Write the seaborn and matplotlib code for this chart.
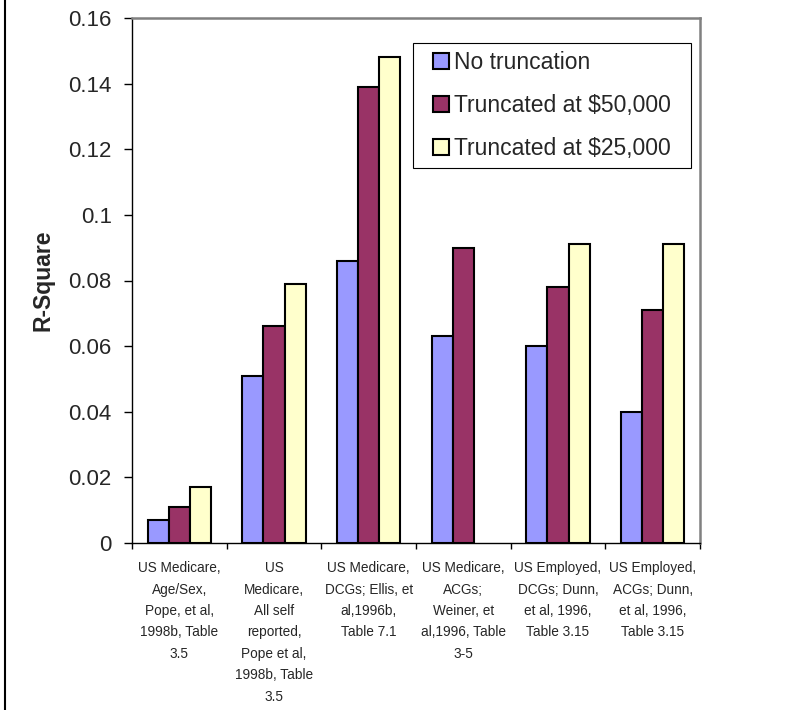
import matplotlib
matplotlib.use("Agg")
import matplotlib.pyplot as plt
from matplotlib.lines import Line2D
from matplotlib.patches import Patch, Rectangle
import numpy as np
import pandas as pd
import seaborn as sns

# Study labels (x categories)
studies = [
    "US Medicare,\nAge/Sex,\nPope, et al,\n1998b, Table\n3.5",
    "US\nMedicare,\nAll self\nreported,\nPope et al,\n1998b, Table\n3.5",
    "US Medicare,\nDCGs; Ellis, et\nal,1996b,\nTable 7.1",
    "US Medicare,\nACGs;\nWeiner, et\nal,1996, Table\n3-5",
    "US Employed,\nDCGs; Dunn,\net al, 1996,\nTable 3.15",
    "US Employed,\nACGs; Dunn,\net al, 1996,\nTable 3.15",
]

series = ["No truncation", "Truncated at $50,000", "Truncated at $25,000"]

# R-square per study and truncation level
no_truncation = [0.007, 0.051, 0.086, 0.063, 0.060, 0.040]
truncated_50k = [0.011, 0.066, 0.139, 0.090, 0.078, 0.071]
truncated_25k = [0.017, 0.079, 0.148, np.nan, 0.091, 0.091]

y_ticks = [0, 0.02, 0.04, 0.06, 0.08, 0.1, 0.12, 0.14, 0.16]

colors = ["#9999FF", "#993366", "#FFFFCC"]

sns.set_theme(style="white")
plt.rcParams["font.family"] = ["Liberation Sans", "DejaVu Sans"]

df = pd.DataFrame({
    "Study": studies * 3,
    "Series": np.repeat(series, len(studies)),
    "R2": no_truncation + truncated_50k + truncated_25k,
})

W, H = 795, 710
fig = plt.figure(figsize=(W / 100, H / 100), dpi=100)
ax = fig.add_axes([132 / W, 1 - 543 / H, 568 / W, 525 / H])

sns.barplot(
    data=df, x="Study", y="R2", hue="Series",
    order=studies, hue_order=series, palette=colors,
    width=0.667, saturation=1, edgecolor="black", linewidth=1.5,
    errorbar=None, legend=False, ax=ax,
)

ax.set_xlim(-0.5, len(studies) - 0.5)
ax.set_ylim(0, 0.16)
ax.set_yticks(y_ticks)
ax.set_yticklabels([f"{v:g}" for v in y_ticks])
ax.tick_params(axis="y", direction="out", length=6, width=1, color="black",
               labelsize=16, pad=8.5, left=True)

ax.set_xticks(range(len(studies)))
ax.set_xticklabels(studies, fontsize=9.8, linespacing=1.68, va="top")
ax.set_xticks(np.arange(-0.5, len(studies), 1), minor=True)
ax.tick_params(axis="x", which="major", length=0, pad=13)
ax.tick_params(axis="x", which="minor", direction="out", length=4, width=1,
               color="black", bottom=True)

ax.set_xlabel("")
ax.set_ylabel("R-Square", fontsize=16.5, fontweight="bold")
ax.yaxis.set_label_coords(-0.136, 0.5)

for side in ("left", "bottom"):
    ax.spines[side].set_color("black")
    ax.spines[side].set_linewidth(1)
for side in ("top", "right"):
    ax.spines[side].set_color("#808080")
    ax.spines[side].set_linewidth(1.8)

# Legend box with its own frame
box_l, box_r, box_t, box_b = 413, 691, 43, 168
fig.add_artist(Rectangle((box_l / W, 1 - box_b / H), (box_r - box_l) / W,
                         (box_b - box_t) / H, transform=fig.transFigure,
                         facecolor="white", edgecolor="black", linewidth=0.8,
                         zorder=5))
handles = [Patch(facecolor=c, edgecolor="black", linewidth=1.5) for c in colors]
leg = fig.legend(
    handles, series, loc="center",
    bbox_to_anchor=((box_l + box_r) / 2 / W, 1 - (box_t + box_b) / 2 / H),
    bbox_transform=fig.transFigure,
    frameon=False, fontsize=16.5,
    handlelength=0.7, handleheight=0.7, handletextpad=0.25,
    labelspacing=0.86, borderpad=0, borderaxespad=0,
)
leg.set_zorder(6)

fig.add_artist(Line2D([4.5 / W, 4.5 / W], [0, 1], transform=fig.transFigure,
                      color="black", linewidth=1.5))

fig.savefig("out.png", dpi=100)
